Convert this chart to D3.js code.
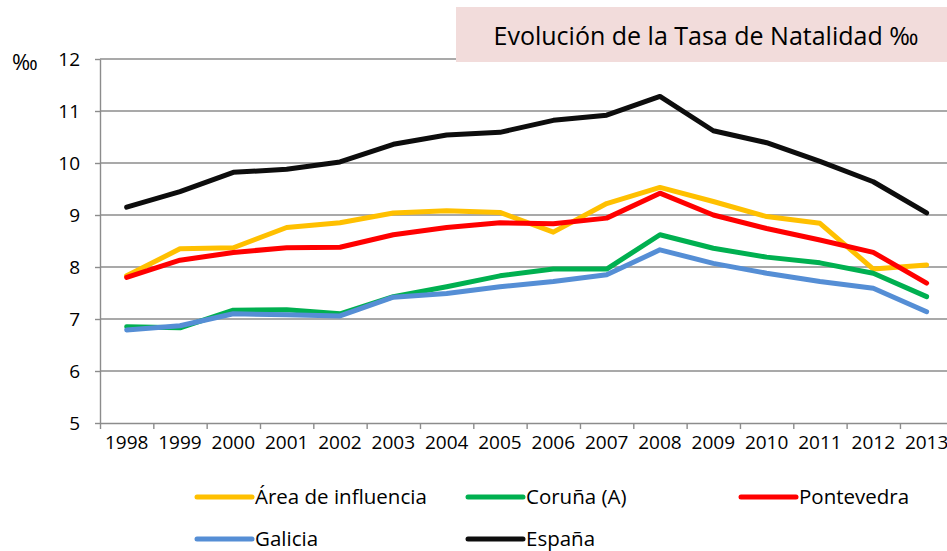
<!DOCTYPE html>
<html>
<head>
<meta charset="utf-8">
<script src="https://cdn.jsdelivr.net/npm/d3@7"></script>
<style>
  body { margin: 0; background: #fff; }
  text { font-family: "Open Sans", sans-serif; fill: #000; }
</style>
</head>
<body>
<div id="chart-area"></div>
<script>
// Tasa de natalidad (por mil) 1998-2013
var years = ["1998","1999","2000","2001","2002","2003","2004","2005","2006","2007","2008","2009","2010","2011","2012","2013"];
var area       = [7.83, 8.35, 8.37, 8.76, 8.85, 9.04, 9.08, 9.05, 8.67, 9.22, 9.53, 9.26, 8.97, 8.84, 7.96, 8.04];
var coruna     = [6.85, 6.83, 7.17, 7.18, 7.10, 7.43, 7.62, 7.83, 7.96, 7.96, 8.62, 8.36, 8.19, 8.08, 7.88, 7.43];
var pontevedra = [7.80, 8.13, 8.28, 8.37, 8.38, 8.62, 8.76, 8.85, 8.83, 8.94, 9.42, 9.00, 8.74, 8.52, 8.28, 7.69];
var galicia    = [6.79, 6.87, 7.10, 7.08, 7.06, 7.42, 7.49, 7.62, 7.72, 7.85, 8.33, 8.07, 7.88, 7.72, 7.59, 7.14];
var espana     = [9.15, 9.45, 9.82, 9.88, 10.02, 10.36, 10.54, 10.59, 10.82, 10.92, 11.28, 10.62, 10.39, 10.03, 9.64, 9.04];
var yTicks = [5, 6, 7, 8, 9, 10, 11, 12];

var series = [
    { name: "Área de influencia", values: area, color: "#FFC000" },
    { name: "Coruña (A)", values: coruna, color: "#00B050" },
    { name: "Pontevedra", values: pontevedra, color: "#FF0000" },
    { name: "Galicia", values: galicia, color: "#558ED5" },
    { name: "España", values: espana, color: "#0D0D0D" }
];

var W = 947, H = 551;
var plotLeft = 100, plotTop = 59, plotBottom = 423;
var step = 53.33;

var svg = d3.select("#chart-area")
    .append("svg")
        .attr("width", W)
        .attr("height", H);

var xscale = d3.scaleBand()
    .domain(years)
    .range([plotLeft, plotLeft + step * years.length])
    .padding(0);

var xedges = d3.scaleLinear()
    .domain([0, years.length])
    .range([plotLeft, plotLeft + step * years.length]);

var yscale = d3.scaleLinear()
    .domain([5, 12])
    .range([plotBottom, plotTop]);

// gridlines
svg.append("g")
    .selectAll("line")
    .data(yTicks.slice(1))
    .enter()
    .append("line")
        .attr("x1", plotLeft)
        .attr("x2", W)
        .attr("y1", function(d){ return yscale(d); })
        .attr("y2", function(d){ return yscale(d); })
        .attr("stroke", "#8c8c8c")
        .attr("stroke-width", 1.4);

// left axis
var leftAxis = svg.append("g")
    .attr("transform", "translate(" + plotLeft + ",0)")
    .call(d3.axisLeft(yscale).tickValues(yTicks).tickFormat(d3.format("d")).tickSize(5).tickPadding(15).tickSizeOuter(0));
leftAxis.select(".domain").attr("stroke", "#8c8c8c").attr("stroke-width", 1.4);
leftAxis.selectAll(".tick line").attr("stroke", "#8c8c8c").attr("stroke-width", 1.4);
leftAxis.selectAll("text")
    .style("font-family", "Open Sans, sans-serif")
    .style("font-size", "19px")
    .attr("fill", "#000");

// bottom axis: tick marks between categories
var tickAxis = svg.append("g")
    .attr("transform", "translate(0," + plotBottom + ")")
    .call(d3.axisBottom(xedges).tickValues(d3.range(years.length + 1)).tickFormat("").tickSize(6).tickSizeOuter(0));
tickAxis.select(".domain").attr("stroke", "#8c8c8c").attr("stroke-width", 1.4);
tickAxis.selectAll(".tick line").attr("stroke", "#8c8c8c").attr("stroke-width", 1.4);

var labelAxis = svg.append("g")
    .attr("transform", "translate(0," + plotBottom + ")")
    .call(d3.axisBottom(xscale).tickSize(0).tickPadding(13));
labelAxis.select(".domain").remove();
labelAxis.selectAll("text")
    .style("font-family", "Open Sans, sans-serif")
    .style("font-size", "19px")
    .attr("fill", "#000");

// lines
var line = d3.line()
    .x(function(d, i){ return xscale(years[i]) + xscale.bandwidth() / 2; })
    .y(function(d){ return yscale(d); });

svg.append("g")
    .selectAll("path")
    .data(series)
    .enter()
    .append("path")
        .attr("d", function(s){ return line(s.values); })
        .attr("fill", "none")
        .attr("stroke", function(s){ return s.color; })
        .attr("stroke-width", 5)
        .attr("stroke-linejoin", "round")
        .attr("stroke-linecap", "round");

// title box
svg.append("rect")
    .attr("x", 456)
    .attr("y", 7)
    .attr("width", W - 456)
    .attr("height", 55)
    .attr("fill", "#F2DCDB");

svg.append("text")
    .attr("x", 706)
    .attr("y", 45)
    .attr("text-anchor", "middle")
    .style("font-size", "25px")
    .text("Evolución de la Tasa de Natalidad ‰");

// unit label
svg.append("text")
    .attr("x", 12)
    .attr("y", 70)
    .style("font-size", "22px")
    .text("‰");

// legend
var legendPos = [
    { x: 197, y: 497 }, { x: 468, y: 497 }, { x: 741, y: 497 },
    { x: 197, y: 539 }, { x: 468, y: 539 }
];

var legend = svg.append("g")
    .selectAll("g")
    .data(series)
    .enter()
    .append("g")
        .attr("transform", function(d, i){ return "translate(" + legendPos[i].x + "," + legendPos[i].y + ")"; });

legend.append("line")
    .attr("x1", 0)
    .attr("x2", 55)
    .attr("y1", 0)
    .attr("y2", 0)
    .attr("stroke", function(d){ return d.color; })
    .attr("stroke-width", 5)
    .attr("stroke-linecap", "round");

legend.append("text")
    .attr("x", 58)
    .attr("y", 7)
    .style("font-size", "20.5px")
    .text(function(d){ return d.name; });
</script>
</body>
</html>
